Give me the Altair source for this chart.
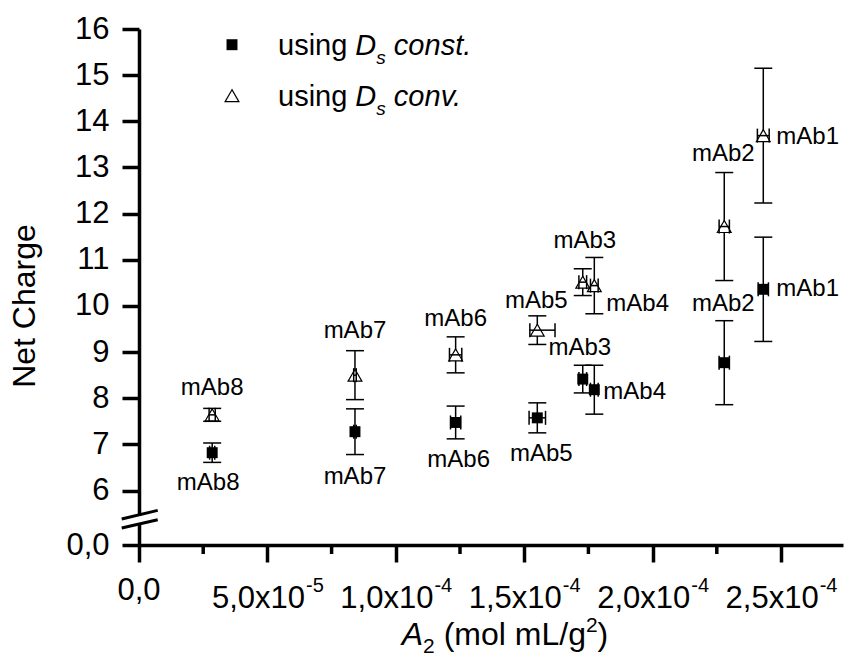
import altair as alt
import pandas as pd

# ---------------- data ----------------
names = ["mAb1", "mAb2", "mAb3", "mAb4", "mAb5", "mAb6", "mAb7", "mAb8"]
a2 = [2.431e-4, 2.279e-4, 1.728e-4, 1.773e-4, 1.551e-4, 1.233e-4, 8.41e-5, 2.85e-5]

# using D_s const. (filled squares)
charge_const = [10.36, 8.77, 8.415, 8.185, 7.575, 7.475, 7.275, 6.82]
charge_const_err = [1.13, 0.91, 0.30, 0.53, 0.325, 0.355, 0.495, 0.21]
a2_const_err = [2.0e-6, 2.0e-6, 1.5e-6, 1.5e-6, 3.2e-6, 2.0e-6, 0.5e-6, 1.0e-6]

# using D_s conv. (open triangles)
charge_conv = [13.69, 11.72, 10.515, 10.44, 9.475, 8.94, 8.50, 7.64]
charge_conv_err = [1.46, 1.17, 0.29, 0.61, 0.31, 0.39, 0.53, 0.14]
a2_conv_err_lo = [2.3e-6, 2.0e-6, 1.5e-6, 1.5e-6, 2.9e-6, 2.4e-6, 0.5e-6, 1.2e-6]
a2_conv_err_hi = [2.3e-6, 2.0e-6, 1.5e-6, 1.5e-6, 6.9e-6, 2.4e-6, 0.5e-6, 1.2e-6]

x_ticks = [0, 5e-5, 1e-4, 1.5e-4, 2e-4, 2.5e-4]
x_tick_base = ["0,0", "5,0x10", "1,0x10", "1,5x10", "2,0x10", "2,5x10"]
x_tick_exp = ["", "-5", "-4", "-4", "-4", "-4"]
x_minor = [2.5e-5, 7.5e-5, 1.25e-4, 1.75e-4, 2.25e-4]
y_ticks = [6, 7, 8, 9, 10, 11, 12, 13, 14, 15, 16]

# ---------------- label placement (pixel offsets, style only) ----------------
lab_const = {  # name: (dx, dy, align)
    "mAb1": (13, 0, "left"), "mAb2": (-1, -59, "center"), "mAb3": (-3, -31, "center"),
    "mAb4": (9, 2, "left"), "mAb5": (4, 36, "center"), "mAb6": (3, 38, "center"),
    "mAb7": (0, 45, "center"), "mAb8": (-4, 30, "center"),
}
lab_conv = {
    "mAb1": (13, 1, "left"), "mAb2": (-1, -73, "center"), "mAb3": (2, -41, "center"),
    "mAb4": (12, 18, "left"), "mAb5": (-1, -29, "center"), "mAb6": (0, -36, "center"),
    "mAb7": (0, -44, "center"), "mAb8": (0, -27, "center"),
}

# ---------------- layout ----------------
FONT = "Liberation Sans"
W, H = 704, 516
XMAX = 2.7414e-4
YMIN, YMAX = 4.82, 16.0   # YMIN: position of the "0,0" tick below the axis break

AW = {" ": 278, "(": 333, ")": 333, "/": 278, ",": 278, "-": 333, ".": 278,
      "0": 556, "1": 556, "2": 556, "3": 556, "4": 556, "5": 556, "6": 556, "7": 556,
      "8": 556, "9": 556, "x": 500, "m": 833, "o": 556, "l": 222, "L": 556, "g": 556,
      "A": 667, "D": 722, "s": 500, "c": 500, "n": 556, "t": 278, "u": 556, "i": 222,
      "v": 500}


def tw(s, size):
    return sum(AW.get(c, 556) for c in s) / 1000.0 * size


rows = []
for i, n in enumerate(names):
    rows.append(dict(name=n, series="const", x=a2[i], y=charge_const[i],
                     ylo=charge_const[i] - charge_const_err[i],
                     yhi=charge_const[i] + charge_const_err[i],
                     xlo=a2[i] - a2_const_err[i], xhi=a2[i] + a2_const_err[i]))
    rows.append(dict(name=n, series="conv", x=a2[i], y=charge_conv[i],
                     ylo=charge_conv[i] - charge_conv_err[i],
                     yhi=charge_conv[i] + charge_conv_err[i],
                     xlo=a2[i] - a2_conv_err_lo[i], xhi=a2[i] + a2_conv_err_hi[i]))
df = pd.DataFrame(rows)

xscale = alt.Scale(domain=[0, XMAX], nice=False, zero=False)
yscale = alt.Scale(domain=[YMIN, YMAX], nice=False, zero=False)
xaxis = alt.Axis(values=x_ticks, labels=False, title=None, grid=False, tickSize=17,
                 tickWidth=3.5, tickColor="black", domainColor="black", domainWidth=3.5)
yaxis = alt.Axis(values=[YMIN] + y_ticks,
                 labelExpr="datum.value < 5 ? '0,0' : format(datum.value, 'd')",
                 labelFont=FONT, labelFontSize=31, labelColor="black", labelPadding=13,
                 tickSize=17, tickWidth=3.5, tickColor="black", domainColor="black",
                 domainWidth=3.5, grid=False, title=None)


def X(f):
    return alt.X(f, type="quantitative", scale=xscale, axis=xaxis)


def Y(f):
    return alt.Y(f, type="quantitative", scale=yscale, axis=yaxis)


base = alt.Chart(df)
layers = []
# vertical error bars
layers.append(base.mark_rule(color="black", strokeWidth=1.5).encode(
    x=X("x"), y=Y("ylo"), y2=alt.Y2("yhi")))
for f in ["ylo", "yhi"]:
    layers.append(base.mark_tick(orient="horizontal", color="black", size=18,
                                 thickness=1.5, opacity=1).encode(x=X("x"), y=Y(f)))
# markers
layers.append(base.transform_filter("datum.series == 'const'").mark_square(
    size=120, color="black", opacity=1).encode(x=X("x"), y=Y("y")))
layers.append(base.transform_filter("datum.series == 'conv'").mark_point(
    shape="triangle-up", size=190, filled=True, fill="white", stroke="black",
    strokeWidth=1.2, opacity=1).encode(x=X("x"), y=Y("y")))
# horizontal error bars
layers.append(base.mark_rule(color="black", strokeWidth=1.5).encode(
    x=X("xlo"), x2=alt.X2("xhi"), y=Y("y")))
for f in ["xlo", "xhi"]:
    layers.append(base.mark_tick(orient="vertical", color="black", size=14,
                                 thickness=1.5, opacity=1).encode(x=X(f), y=Y("y")))

# point labels
for series, lab in [("const", lab_const), ("conv", lab_conv)]:
    for n, (dx, dy, al) in lab.items():
        layers.append(base.transform_filter(
            f"datum.series == '{series}' && datum.name == '{n}'").mark_text(
            font=FONT, fontSize=24, color="black", align=al, baseline="middle",
            dx=dx, dy=dy).encode(x=X("x"), y=Y("y"), text="name:N"))

# minor x ticks
layers.append(alt.Chart(pd.DataFrame({"v": x_minor})).mark_rule(
    color="black", strokeWidth=3.5).encode(x=X("v"), y=alt.value(H), y2=alt.value(H + 9)))

# x tick labels (base + superscript exponent)
TL, TE = 31, 20
tdf = pd.DataFrame({"v": x_ticks, "base": x_tick_base, "exp": x_tick_exp})
wb, we = tw("5,0x10", TL), tw("-5", TE)
shift = (wb - we) / 2.0
layers.append(alt.Chart(tdf).transform_filter("datum.exp == ''").mark_text(
    font=FONT, fontSize=TL, color="black", align="center", baseline="alphabetic").encode(
    x=X("v"), y=alt.value(H + 55), text="base:N"))
layers.append(alt.Chart(tdf).transform_filter("datum.exp != ''").mark_text(
    font=FONT, fontSize=TL, color="black", align="right", baseline="alphabetic",
    dx=shift).encode(x=X("v"), y=alt.value(H + 63), text="base:N"))
layers.append(alt.Chart(tdf).transform_filter("datum.exp != ''").mark_text(
    font=FONT, fontSize=TE, color="black", align="left", baseline="alphabetic",
    dx=shift + 1).encode(x=X("v"), y=alt.value(H + 47), text="exp:N"))

# decorations: legend, axis titles (pixel positions relative to plot origin)
pieces = []  # (text, px, py, size, italic)
LF, LS = 29, 19
lx0 = 139
for k, (word, by) in enumerate([("const.", 25.7), ("conv.", 76.7)]):
    x = lx0
    pieces.append(("using", x, by, LF, False))
    x += tw("using ", LF)
    pieces.append(("D", x, by, LF, True))
    x += tw("D", LF)
    pieces.append(("s", x, by + 9, LS, True))
    x += tw("s", LS) + tw(" ", LF)
    pieces.append((word, x, by, LF, True))

TF, TS = 32, 21
tb = 616
total = (tw("A", TF) + tw("2", TS) + tw(" ", TF) + tw("(mol mL/g", TF)
         + tw("2", TS) + tw(")", TF))
x = 366 - total / 2.0
pieces.append(("A", x, tb, TF, True)); x += tw("A", TF)
pieces.append(("2", x, tb + 8, TS, False)); x += tw("2", TS) + tw(" ", TF)
pieces.append(("(mol mL/g", x, tb, TF, False)); x += tw("(mol mL/g", TF)
pieces.append(("2", x, tb - 13, TS, False)); x += tw("2", TS)
pieces.append((")", x, tb, TF, False))

pdf = pd.DataFrame(pieces, columns=["t", "px", "py", "fs", "it"])
for it in [False, True]:
    layers.append(alt.Chart(pdf).transform_filter(
        "datum.it" if it else "!datum.it").mark_text(
        font=FONT, color="black", align="left", baseline="alphabetic",
        fontStyle="italic" if it else "normal").encode(
        x=alt.X("px:Q", scale=None), y=alt.Y("py:Q", scale=None),
        size=alt.Size("fs:Q", scale=None), text="t:N"))

one = pd.DataFrame({"a": [0]})
layers.append(alt.Chart(one).mark_text(
    font=FONT, fontSize=32, color="black", angle=270, align="center",
    baseline="alphabetic").encode(x=alt.value(-104), y=alt.value(277),
                                  text=alt.value("Net Charge")))
# legend symbols
layers.append(alt.Chart(one).mark_square(size=120, color="black", opacity=1).encode(
    x=alt.value(93), y=alt.value(15.7)))
layers.append(alt.Chart(one).mark_point(
    shape="triangle-up", size=190, filled=True, fill="white", stroke="black",
    strokeWidth=1.2, opacity=1).encode(x=alt.value(93), y=alt.value(66.7)))

# axis break marks
layers.append(alt.Chart(one).mark_rule(color="white", strokeWidth=6).encode(
    x=alt.value(0), y=alt.value(487), y2=alt.value(494)))
layers.append(alt.Chart(one).mark_rule(color="black", strokeWidth=3).encode(
    x=alt.value(-17.3), x2=alt.value(18.7), y=alt.value(490), y2=alt.value(481.4)))
layers.append(alt.Chart(one).mark_rule(color="black", strokeWidth=3).encode(
    x=alt.value(-17.3), x2=alt.value(18.7), y=alt.value(499), y2=alt.value(490.7)))

chart = alt.layer(*layers).properties(
    width=W, height=H,
    padding={"left": 139, "top": 29, "right": 1, "bottom": 114},
    autosize=alt.AutoSizeParams(type="none"),
    background="white",
).configure_view(stroke=None)

chart.save("out.html", embed_options={"renderer": "svg", "actions": False})
